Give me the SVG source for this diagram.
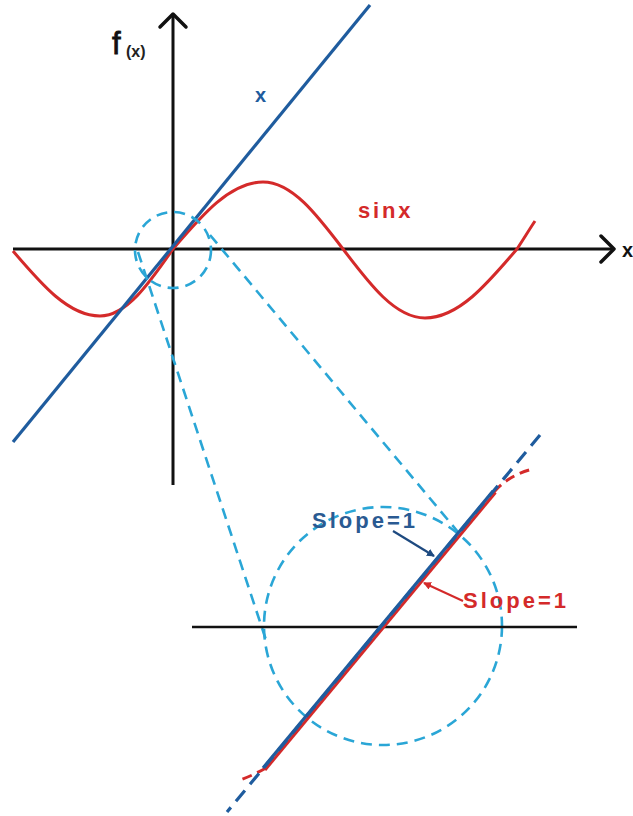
<svg xmlns="http://www.w3.org/2000/svg" width="633" height="816" viewBox="0 0 633 816">
<style>
.axis{stroke:#111;stroke-width:3;fill:none}
.chev{stroke:#111;stroke-width:3.5;fill:none;stroke-linecap:round;stroke-linejoin:round}
.blue{stroke:#1f5c9e;stroke-width:3.2;fill:none}
.red{stroke:#d42a2a;stroke-width:3;fill:none}
.cyan{stroke:#2aa6d6;stroke-width:2.6;fill:none;stroke-dasharray:11 7}
.bdash{stroke:#1f5c9e;stroke-width:3.2;fill:none;stroke-dasharray:14 8}
.rdash{stroke:#d42a2a;stroke-width:3;fill:none;stroke-dasharray:10 6}
.lbl{font-family:"Liberation Sans",Arial,sans-serif;font-weight:bold}
</style>
<defs>
<marker id="ahB" markerWidth="8" markerHeight="8" refX="7" refY="4" orient="auto" markerUnits="userSpaceOnUse"><path d="M0,0 L8,4 L0,8 Z" fill="#1e4a80"/></marker>
<marker id="ahR" markerWidth="8" markerHeight="8" refX="7" refY="4" orient="auto" markerUnits="userSpaceOnUse"><path d="M0,0 L8,4 L0,8 Z" fill="#d42a2a"/></marker>
</defs>
<rect width="633" height="816" fill="#fff"/>

<g id="axes">
<line class="axis" x1="13" y1="249" x2="614" y2="249"/>
<polyline class="chev" points="601,236 614,249 601,262"/>
<line class="axis" x1="173" y1="14" x2="173" y2="485"/>
<polyline class="chev" points="160,27 173,14 186,27"/>
<text class="lbl" x="622" y="257" font-size="20" fill="#111">x</text>
<text x="112" y="54" font-family="Liberation Sans,Arial,sans-serif" font-size="31" fill="#111" stroke="#111" stroke-width="0.8">f</text>
<text class="lbl" x="126" y="57" font-size="16" fill="#222">(x)</text>
</g>

<g id="sine-curve">
<path class="red" d="M13,251 C41.4,284.3 68.5,316 100,316 C126.4,316 149.2,283.3 173,249 C202.3,214.7 230.4,182 263,182 C292,182 316.9,214.7 343,249 C369.7,284.3 395.3,318 425,318 C458.3,318 487,284.3 517,249 C523,240 529,230 535,221"/>
<text class="lbl" x="358" y="218" font-size="22" fill="#d42a2a" letter-spacing="2.8">sinx</text>
</g>

<g id="line-x">
<line class="blue" x1="13" y1="442" x2="370" y2="5"/>
<text class="lbl" x="255" y="102" font-size="20" fill="#1f5c9e">x</text>
</g>

<g id="zoom-circle-small">
<circle class="cyan" cx="173" cy="250" r="38"/>
</g>

<g id="connectors">
<line class="cyan" x1="138" y1="252" x2="266" y2="640"/>
<line class="cyan" x1="210" y1="235" x2="458" y2="532"/>
</g>

<g id="zoom-circle-large">
<circle class="cyan" cx="383" cy="626" r="119"/>
</g>

<g id="zoom-view">
<line x1="192" y1="627" x2="577" y2="627" stroke="#111" stroke-width="2.5"/>
<path class="rdash" d="M494,492 Q509,475 533,469"/>
<path class="rdash" d="M266,768 Q252,776 237,781"/>
<line class="red" x1="495.5" y1="492.5" x2="265" y2="770" stroke-width="3.4"/>
<line class="bdash" x1="540" y1="435" x2="227" y2="812"/>
<line class="blue" x1="493" y1="491" x2="263" y2="768"/>
</g>

<g id="label-slope-blue">
<text class="lbl" x="312" y="528" font-size="22" fill="#2a5a92" letter-spacing="3">Slope=1</text>
<line x1="393" y1="531" x2="434" y2="556" stroke="#1e4a80" stroke-width="2.2" marker-end="url(#ahB)"/>
</g>

<g id="label-slope-red">
<text class="lbl" x="463" y="608" font-size="22" fill="#d42a2a" letter-spacing="3">Slope=1</text>
<line x1="463" y1="601" x2="424" y2="583" stroke="#d42a2a" stroke-width="2" marker-end="url(#ahR)"/>
</g>
</svg>
